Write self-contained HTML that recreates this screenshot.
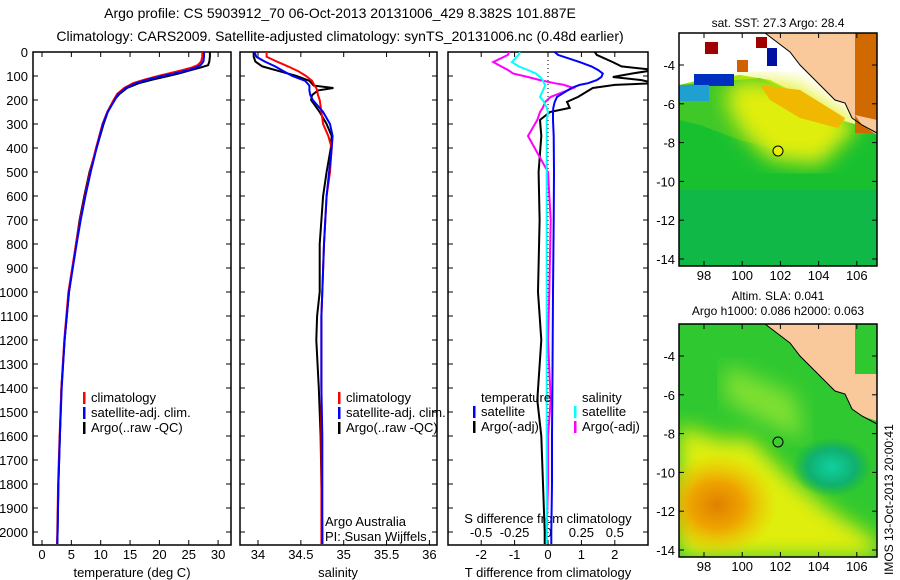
<!DOCTYPE html>
<html><head><meta charset="utf-8">
<style>
html,body{margin:0;padding:0;background:#fff;}
svg{display:block;font-family:"Liberation Sans",sans-serif;}
text{font-size:13px;fill:#000;}
</style></head>
<body>
<svg id="fig" width="900" height="580" viewBox="0 0 900 580" xmlns="http://www.w3.org/2000/svg">
<defs>
<clipPath id="c1"><rect x="33" y="52" width="198" height="493"/></clipPath>
<clipPath id="c2"><rect x="240" y="52" width="197" height="493"/></clipPath>
<clipPath id="c3"><rect x="448" y="52" width="200" height="493"/></clipPath>
<clipPath id="cm1"><rect x="679" y="33" width="198" height="233"/></clipPath>
<clipPath id="cm2"><rect x="679" y="324" width="198" height="233"/></clipPath>
<radialGradient id="orng" cx="0.5" cy="0.5" r="0.5"><stop offset="0" stop-color="#e08000"/><stop offset="0.45" stop-color="#eea400"/><stop offset="1" stop-color="#f0c000" stop-opacity="0"/></radialGradient>
<radialGradient id="teal" cx="0.5" cy="0.5" r="0.5"><stop offset="0" stop-color="#10d0a0"/><stop offset="0.6" stop-color="#10b070"/><stop offset="1" stop-color="#10b050" stop-opacity="0"/></radialGradient>
<linearGradient id="sstg" x1="0" y1="0" x2="0" y2="1"><stop offset="0" stop-color="#d8f000"/><stop offset="0.5" stop-color="#30c820"/><stop offset="1" stop-color="#10c050"/></linearGradient>
<filter id="blur"><feGaussianBlur stdDeviation="10"/></filter>
</defs>
<text x="340" y="18" text-anchor="middle" style="font-size:14px">Argo profile: CS 5903912_70 06-Oct-2013 20131006_429 8.382S 101.887E</text>
<text x="340" y="41" text-anchor="middle" style="font-size:14px">Climatology: CARS2009. Satellite-adjusted climatology: synTS_20131006.nc (0.48d earlier)</text>
<g id="p1"></g>
<g id="p2"></g>
<g id="p3"></g>

<!-- SST map -->
<g>
<text x="778" y="27" text-anchor="middle" style="font-size:12px">sat. SST: 27.3 Argo: 28.4</text>
<g clip-path="url(#cm1)">
<rect x="679" y="33" width="198" height="233" fill="url(#sstg)"/>
<rect x="679" y="120" width="198" height="146" fill="#18c030"/>
<rect x="679" y="190" width="198" height="76" fill="#10b848"/>
<polygon points="760,33 877,33 877,130 840,120 800,95 770,80 740,75 700,80 679,85 679,33" fill="#fff"/>
<polygon points="679,85 760,78 800,95 845,120 820,130 780,150 740,140 700,125 679,120" fill="#40c828"/>
<polygon points="735,80 795,85 835,110 860,125 820,165 770,160 740,130 725,100" fill="#e0ee10" filter="url(#blur)"/>
<polygon points="760,85 800,90 845,118 838,128 800,118 770,100" fill="#f0b800"/>
<rect x="694" y="74" width="40" height="12" fill="#0030c0"/>
<rect x="679" y="85" width="30" height="16" fill="#20a0d0"/>
<rect x="705" y="42" width="13" height="12" fill="#a00000"/>
<rect x="756" y="37" width="11" height="11" fill="#a00000"/>
<rect x="737" y="60" width="11" height="12" fill="#d06000"/>
<rect x="767" y="48" width="10" height="18" fill="#0010a0"/>
<polygon points="765,33 877,33 877,130 862,125 852,118 845,103 835,100 815,80 800,65 790,52" fill="#f9c99c"/>
<rect x="855" y="33" width="22" height="100" fill="#d06a00"/>
<polygon points="855,115 877,120 877,135 862,125" fill="#f9c99c"/>
<path d="M765 33 L790 52 L800 65 L815 80 L835 100 L845 103 L852 118 L862 125 L877 133" fill="none" stroke="#000" stroke-width="1"/>
<circle cx="778" cy="151" r="5" fill="#e8f000" stroke="#000"/>
</g>
<rect x="679" y="33" width="198" height="233" fill="none" stroke="#000" stroke-width="1.5"/>
</g>

<!-- SLA map -->
<g>
<text x="778" y="300" text-anchor="middle" style="font-size:12px">Altim. SLA: 0.041</text>
<text x="778" y="315" text-anchor="middle" style="font-size:12px">Argo h1000: 0.086 h2000: 0.063</text>
<g clip-path="url(#cm2)">
<rect x="679" y="324" width="198" height="233" fill="#30c830"/>
<polygon points="679,425 720,440 750,438 790,478 830,510 877,540 877,557 679,557" fill="#e0ee10" filter="url(#blur)"/>
<ellipse cx="717" cy="505" rx="60" ry="52" fill="url(#orng)"/>
<ellipse cx="832" cy="467" rx="40" ry="30" fill="url(#teal)"/>
<polygon points="725,365 795,395 805,440 770,425 725,400" fill="#80e030" filter="url(#blur)"/>
<polygon points="765,324 877,324 877,421 862,416 852,409 845,394 835,391 815,371 800,356 790,343" fill="#f9c99c"/>
<rect x="855" y="324" width="22" height="50" fill="#30c830"/>
<path d="M765 324 L790 343 L800 356 L815 371 L835 391 L845 394 L852 409 L862 416 L877 424" fill="none" stroke="#000" stroke-width="1"/>
<circle cx="778" cy="442" r="5" fill="none" stroke="#000"/>
</g>
<rect x="679" y="324" width="198" height="233" fill="none" stroke="#000" stroke-width="1.5"/>
<text transform="translate(893,575) rotate(-90)" style="font-size:12px">IMOS 13-Oct-2013 20:00:41</text>
</g>
<g id="maxes"></g>
</svg>
<script>
// ---- data ----
const tDepth=[0,20,40,55,65,75,90,100,115,130,150,175,200,250,300,400,500,600,700,800,1000,1200,1400,1600,1800,2000,2050];
const tClim=[27.3,27.3,27.1,26.5,25.5,24,21.5,19.8,17.5,15.5,14,12.8,12.2,11.1,10.3,9.2,8.2,7.3,6.5,5.8,4.5,3.8,3.3,3.0,2.75,2.6,2.55];
const tSat=[27.6,27.6,27.5,27,26.2,25,22.5,20.5,18,16,14.3,13,12.4,11.2,10.4,9.3,8.3,7.4,6.6,5.9,4.6,3.85,3.35,3.05,2.8,2.65,2.6];
const tArgo=[28.6,28.6,28.5,28.3,27,25.4,23.2,21.5,18.8,16.5,14.5,13.2,12.3,11.2,10.5,9.3,8.1,7.2,6.4,5.8,4.6,3.85,3.3,3.05,2.8,2.65,2.6];
const sDepth=[0,20,40,60,80,100,120,140,150,160,180,200,250,300,350,400,500,600,800,1000,1100,1200,1400,1600,1800,2000,2050];
const sClim=[34.1,34.1,34.22,34.35,34.47,34.56,34.63,34.66,34.68,34.69,34.7,34.72,34.74,34.76,34.82,34.86,34.84,34.8,34.77,34.75,34.74,34.74,34.74,34.74,34.74,34.74,34.74];
const sSat=[33.96,33.98,34.08,34.2,34.3,34.4,34.55,34.6,34.6,34.6,34.61,34.64,34.76,34.84,34.87,34.86,34.83,34.8,34.77,34.75,34.74,34.74,34.74,34.75,34.75,34.75,34.75];
const sArgo=[33.95,33.95,33.97,34.05,34.25,34.45,34.6,34.65,34.88,34.7,34.63,34.62,34.72,34.8,34.86,34.85,34.8,34.76,34.72,34.72,34.69,34.68,34.71,34.73,34.74,34.75,34.75];
const dDepth=[0,12,42,60,75,90,104,117,130,137,150,187,208,233,250,283,350,500,700,1000,1200,1450,1600,1800,2000,2050];
const dTSat=[0.2,0.3,0.95,1.3,1.5,1.64,1.6,1.46,1.2,0.95,0.7,0.27,0.2,0.16,0.15,0.15,0.17,0.18,0.17,0.15,0.14,0.13,0.12,0.12,0.1,0.1];
const dTArgo=[1.4,1.46,1.94,2.2,3.2,2.5,1.94,2.8,3.2,2.0,1.34,0.9,0.57,0.65,0.06,-0.24,-0.2,-0.28,-0.25,-0.3,-0.2,-0.32,-0.2,-0.15,-0.1,-0.1];
const dSSat=[-0.21,-0.22,-0.27,-0.22,-0.15,-0.09,-0.06,-0.04,-0.03,-0.02,-0.03,-0.06,-0.03,-0.01,0,-0.01,-0.01,-0.01,-0.01,-0.01,-0.01,-0.01,-0.01,-0.01,-0.01,-0.01];
const dSArgo=[-0.29,-0.3,-0.41,-0.35,-0.3,-0.26,-0.15,-0.06,0.05,0.12,0.19,0.02,-0.02,-0.04,-0.06,-0.08,-0.15,0,0.02,0.01,0.0,0.02,0.0,0.0,-0.01,-0.01];
const depthTicks=[0,100,200,300,400,500,600,700,800,900,1000,1100,1200,1300,1400,1500,1600,1700,1800,1900,2000];
const tTicks=[0,5,10,15,20,25,30];
const sTicks=[34,34.5,35,35.5,36];
const dtTicks=[-2,-1,0,1,2];
const dsTicks=[-0.5,-0.25,0,0.25,0.5];
const dsTickLabels=["-0.5","-0.25","0","0.25","0.5"];
const lonTicks=[98,100,102,104,106];
const latTicks=[-4,-6,-8,-10,-12,-14];
// ---- axes ----
const NS='http://www.w3.org/2000/svg';
const yD=d=>52+d*0.24;
const x1=t=>42+t*5.87;
const x2=s=>258+(s-34)*85.7;
const x3=t=>548+t*33.4;
const x3s=s=>548+s*133.6;
const lonX=l=>704+(l-98)*19.1;
const latY=(l,top)=>top+32+(-4-l)*19.4;
function el(tag,attrs,parent){const e=document.createElementNS(NS,tag);for(const k in attrs)e.setAttribute(k,attrs[k]);parent.appendChild(e);return e;}
function txt(x,y,s,anchor,parent){const e=el('text',{x:x,y:y,'text-anchor':anchor},parent);e.textContent=s;return e;}
function line(xs,ds,fx,color,parent,clip,w){
  const pts=ds.map((d,i)=>fx(xs[i]).toFixed(1)+','+yD(d).toFixed(1)).join(' ');
  const p=el('polyline',{points:pts,fill:'none',stroke:color,'stroke-width':w||2,'clip-path':'url(#'+clip+')'},parent);
  return p;
}
function frame(g,x0,w,name){
  const r=el('rect',{x:x0,y:52,width:w,height:493,fill:'none',stroke:'#000','stroke-width':1.5},g);
  
  
  depthTicks.forEach(d=>{el('line',{x1:x0,x2:x0+5,y1:yD(d),y2:yD(d),stroke:'#000'},g);el('line',{x1:x0+w,x2:x0+w-5,y1:yD(d),y2:yD(d),stroke:'#000'},g);});
}
function xticks(g,ticks,fx,labels,y,name){
  ticks.forEach((t,i)=>{
    el('line',{x1:fx(t),x2:fx(t),y1:545,y2:540,stroke:'#000'},g);
    el('line',{x1:fx(t),x2:fx(t),y1:52,y2:57,stroke:'#000'},g);
    const e=txt(fx(t),y,labels?labels[i]:String(t),'middle',g);
    
    
  });
}
function legend(g,x,y,color,label){
  el('rect',{x:x,y:y-10,width:2.5,height:12,fill:color},g);
  const e=txt(x+8,y,label,'start',g);
  
  
}
// panel 1
const p1=document.getElementById('p1');
frame(p1,33,198,'temperature');
depthTicks.forEach(d=>{const e=txt(28,yD(d)+5,String(d),'end',p1);

});
xticks(p1,tTicks,x1,null,559,'temperature');
const a1=txt(132,577,'temperature (deg C)','middle',p1);


line(tArgo,tDepth,x1,'#000',p1,'c1');
line(tClim,tDepth,x1,'#f00',p1,'c1');
line(tSat,tDepth,x1,'#00f',p1,'c1');
legend(p1,83,402,'#f00','climatology');legend(p1,83,417,'#00f','satellite-adj. clim.');legend(p1,83,432,'#000','Argo(..raw -QC)');
// panel 2
const p2=document.getElementById('p2');
frame(p2,240,197,'salinity');
xticks(p2,sTicks,x2,null,559,'salinity');
const a2=txt(338,577,'salinity','middle',p2);


line(sArgo,sDepth,x2,'#000',p2,'c2');
line(sClim,sDepth,x2,'#f00',p2,'c2');
line(sSat,sDepth,x2,'#00f',p2,'c2');
legend(p2,338,402,'#f00','climatology');legend(p2,338,417,'#00f','satellite-adj. clim.');legend(p2,338,432,'#000','Argo(..raw -QC)');
const c1=txt(325,526,'Argo Australia','start',p2);


const c2=txt(325,541,'PI: Susan Wijffels','start',p2);


// panel 3
const p3=document.getElementById('p3');
frame(p3,448,200,'difference');
el('line',{x1:548,x2:548,y1:52,y2:545,stroke:'#000','stroke-dasharray':'1,3'},p3);
xticks(p3,dtTicks,x3,null,559,'t-difference');
dsTicks.forEach((s,i)=>{const e=txt(x3s(s),537,dsTickLabels[i],'middle',p3);

});
const a3=txt(548,577,'T difference from climatology','middle',p3);


const a4=txt(548,523,'S difference from climatology','middle',p3);


line(dTArgo,dDepth,x3,'#000',p3,'c3');
line(dSArgo,dDepth,x3s,'#f0f',p3,'c3');
line(dTSat,dDepth,x3,'#00f',p3,'c3');
line(dSSat,dDepth,x3s,'#0ff',p3,'c3');
const lt=txt(481,402,'temperature','start',p3);


const ls=txt(582,402,'salinity','start',p3);


legend(p3,473,416,'#00f','satellite');legend(p3,473,431,'#000','Argo(-adj)');
legend(p3,574,416,'#0ff','satellite');legend(p3,574,431,'#f0f','Argo(-adj)');
// map axes
const mg=document.getElementById('maxes');
[33,324].forEach((top,mi)=>{
  lonTicks.forEach(l=>{
    el('line',{x1:lonX(l),x2:lonX(l),y1:top+233,y2:top+228,stroke:'#000'},mg);
    el('line',{x1:lonX(l),x2:lonX(l),y1:top,y2:top+5,stroke:'#000'},mg);
    const e=txt(lonX(l),top+233+14,String(l),'middle',mg);
    
    
  });
  latTicks.forEach(l=>{
    el('line',{x1:679,x2:684,y1:latY(l,top),y2:latY(l,top),stroke:'#000'},mg);
    el('line',{x1:877,x2:872,y1:latY(l,top),y2:latY(l,top),stroke:'#000'},mg);
    const e=txt(675,latY(l,top)+5,String(l),'end',mg);
    
    
  });
});
</script>
</body></html>
